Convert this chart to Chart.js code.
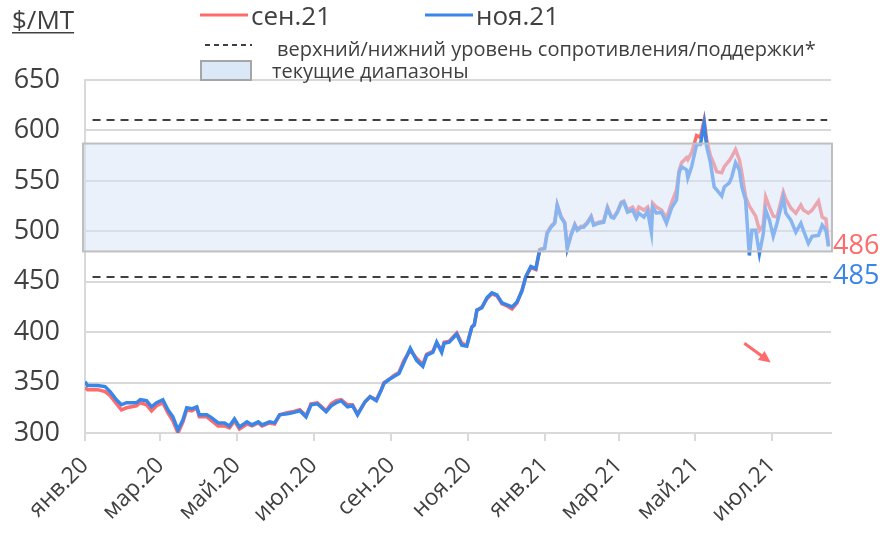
<!DOCTYPE HTML>
<html>
<head>
    <meta charset="utf-8">
    <script src="https://cdn.jsdelivr.net/npm/chart.js"></script>
    <style>
        body { margin: 0; background: #fff; }
    </style>
</head>
<body>
<canvas id="myChart" width="884" height="534"></canvas>

<script type="text/javascript">
    // days since 1 Jan 2020
    const days = [0,2,10,16,20,25,29,33,41,44,49,53,57,62,66,70,74,78,81,85,89,91,97,101,106,111,115,119,123,129,133,138,141,147,151,
        155,161,165,171,176,180,185,192,196,200,204,209,213,217,223,227,232,236,238,242,246,250,254,259,264,269,272,277,280,284,286,290,296,300,304,
        308,310,312,316,320,324,328,332,336,340,344,348,351,355,359,362,366,368,371,374,376,379,382,384,387,390,392,395,397,400,403,405,409,413,416,
        419,421,424,427,429,432,436,439,441,445,448,451,452,455,459,463,467,471,473,475,479,480,483,487,490,493,495,498,501,503,507,509,513,515,518,
        521,523,526,529,531,534,537,540,542,545,548,551,556,558,562,566,570,572,576,579,584,587,590,592];

    const sep21 = [345,343,343,341,337,329,323,325,327,330,328,322,327,330,320,312,300,311,323,322,325,316,316,312,307,307,305,312,304,309,307,310,307,310,309,
        318,320,321,323,317,329,330,322,329,332,333,328,328,319,331,336,333,343,350,353,357,360,372,382,374,368,378,381,389,382,390,391,399,389,387,
        405,408,421,425,433,438,436,428,426,423,429,442,455,464,462,482,484,499,505,509,526,515,509,484,497,507,502,505,505,509,515,507,509,510,524,
        515,514,520,529,530,521,524,518,524,521,524,512,528,524,521,513,528,541,560,568,573,571,578,595,593,610,590,575,566,559,558,564,570,574,581,
        571,558,534,525,521,515,501,506,534,524,515,514,539,532,523,518,526,521,518,521,530,514,512,486];

    const nov21 = [351,347,347,346,341,333,328,330,330,333,332,326,330,333,323,316,303,313,325,324,326,318,318,315,310,310,307,314,306,311,308,311,308,311,310,
        318,319,320,322,316,328,329,321,327,330,332,326,327,318,331,336,332,343,349,353,356,359,370,384,372,366,377,380,390,380,389,390,398,387,386,
        405,407,422,424,434,439,437,429,427,425,430,441,455,465,463,481,483,498,504,508,526,514,508,483,496,506,501,504,504,508,514,506,508,509,523,
        514,513,519,528,529,519,521,513,518,514,520,499,524,518,519,508,523,531,558,564,561,553,564,586,586,607,584,568,544,541,535,544,548,554,568,
        561,544,531,476,501,501,478,497,521,511,495,508,533,518,511,499,508,501,488,495,496,506,501,485];

    const tickDays = [0,60,121,182,244,305,366,425,486,547];
    const tickLabels = ['янв.20','мар.20','май.20','июл.20','сен.20','ноя.20','янв.21','мар.21','май.21','июл.21'];
    const seriesNames = ['сен.21','ноя.21'];
    const levelLines = [610, 455];
    const rangeBand = [480, 587];
    const arrowFrom = [525, 389];
    const arrowTo = [546, 370];

    const FONT = "'Open Sans', sans-serif";
    const RED = '#ff6b6b';
    const BLUE = '#3a86e8';
    const TXT = '#404040';

    const overlay = {
        id: 'overlay',
        afterDatasetsDraw(chart) {
            const ctx = chart.ctx;
            const area = chart.chartArea;
            const x = chart.scales.x, y = chart.scales.y;
            ctx.save();

            // current range box, drawn over the lines
            const top = y.getPixelForValue(rangeBand[1]);
            const bot = y.getPixelForValue(rangeBand[0]);
            ctx.fillStyle = 'rgba(214,228,248,0.5)';
            ctx.fillRect(area.left - 2, top, area.right - area.left + 3, bot - top);
            ctx.strokeStyle = '#bfbfbf';
            ctx.lineWidth = 2;
            ctx.strokeRect(area.left - 2, top, area.right - area.left + 3, bot - top);

            // resistance / support
            ctx.setLineDash([8, 6]);
            ctx.strokeStyle = '#404040';
            levelLines.forEach(v => {
                const py = Math.round(y.getPixelForValue(v));
                ctx.beginPath();
                ctx.moveTo(x.getPixelForValue(6), py);
                ctx.lineTo(x.getPixelForValue(591), py);
                ctx.stroke();
            });
            ctx.setLineDash([]);

            // last values
            ctx.font = '27px ' + FONT;
            ctx.textBaseline = 'middle';
            ctx.textAlign = 'left';
            const ly = y.getPixelForValue(sep21[sep21.length - 1]) + 1;
            ctx.fillStyle = RED;
            ctx.fillText(sep21[sep21.length - 1], area.right + 2, ly);
            ctx.fillStyle = BLUE;
            ctx.fillText(nov21[nov21.length - 1], area.right + 2, ly + 30);

            // arrow
            const x1 = x.getPixelForValue(arrowFrom[0]), y1 = y.getPixelForValue(arrowFrom[1]);
            const x2 = x.getPixelForValue(arrowTo[0]), y2 = y.getPixelForValue(arrowTo[1]);
            const ang = Math.atan2(y2 - y1, x2 - x1);
            ctx.strokeStyle = RED;
            ctx.fillStyle = RED;
            ctx.lineWidth = 3;
            ctx.beginPath();
            ctx.moveTo(x1, y1);
            ctx.lineTo(x2 - 8 * Math.cos(ang), y2 - 8 * Math.sin(ang));
            ctx.stroke();
            ctx.beginPath();
            ctx.moveTo(x2, y2);
            ctx.lineTo(x2 - 13 * Math.cos(ang - 0.45), y2 - 13 * Math.sin(ang - 0.45));
            ctx.lineTo(x2 - 13 * Math.cos(ang + 0.45), y2 - 13 * Math.sin(ang + 0.45));
            ctx.closePath();
            ctx.fill();
            ctx.restore();
        },
        afterDraw(chart) {
            const ctx = chart.ctx;
            ctx.save();
            ctx.fillStyle = TXT;
            ctx.textBaseline = 'alphabetic';
            ctx.textAlign = 'left';

            // unit
            ctx.font = '26px ' + FONT;
            ctx.fillText('$/MT', 12, 29);
            const w = ctx.measureText('$/MT').width;
            ctx.fillRect(12, 32, w, 1.5);

            // series legend
            ctx.lineWidth = 3;
            [[RED, 200], [BLUE, 425]].forEach((s, i) => {
                ctx.strokeStyle = s[0];
                ctx.beginPath();
                ctx.moveTo(s[1], 15);
                ctx.lineTo(s[1] + 48, 15);
                ctx.stroke();
                ctx.fillStyle = TXT;
                ctx.font = '26px ' + FONT;
                ctx.fillText(seriesNames[i], s[1] + 51, 25);
            });

            // dashed legend
            ctx.setLineDash([5, 4]);
            ctx.strokeStyle = '#404040';
            ctx.lineWidth = 2;
            ctx.beginPath();
            ctx.moveTo(205, 45);
            ctx.lineTo(252, 45);
            ctx.stroke();
            ctx.setLineDash([]);
            ctx.font = '20px ' + FONT;
            ctx.fillText('верхний/нижний уровень сопротивления/поддержки*', 277, 56);

            // box legend
            ctx.fillStyle = '#dbe8f8';
            ctx.fillRect(201, 61, 50, 19);
            ctx.strokeStyle = '#a6a6a6';
            ctx.strokeRect(201, 61, 50, 19);
            ctx.fillStyle = TXT;
            ctx.fillText('текущие диапазоны', 272, 78);
            ctx.restore();
        }
    };

    const data = {
        datasets: [{
            label: seriesNames[0],
            data: days.map((d, i) => ({x: d, y: sep21[i]})),
            borderColor: RED,
            borderWidth: 3.5,
            pointRadius: 0,
            tension: 0,
            order: 2
        }, {
            label: seriesNames[1],
            data: days.map((d, i) => ({x: d, y: nov21[i]})),
            borderColor: BLUE,
            borderWidth: 3.5,
            pointRadius: 0,
            tension: 0,
            order: 1
        }]
    };

    const config = {
        type: 'line',
        data: data,
        plugins: [overlay],
        options: {
            responsive: false,
            animation: false,
            layout: { padding: { top: 80, right: 53, left: 0, bottom: 0 } },
            plugins: { legend: { display: false }, tooltip: { enabled: false } },
            scales: {
                x: {
                    type: 'linear',
                    min: 0,
                    max: 594,
                    afterBuildTicks: (scale) => { scale.ticks = tickDays.map(v => ({value: v})); },
                    afterFit: (scale) => { scale.height = 101; },
                    ticks: {
                        autoSkip: false,
                        maxRotation: 45,
                        minRotation: 45,
                        color: TXT,
                        padding: 11,
                        font: { family: FONT, size: 23 },
                        callback: (v) => tickLabels[tickDays.indexOf(v)]
                    },
                    grid: { drawOnChartArea: false, drawTicks: true, tickLength: 8, color: '#d9d9d9', lineWidth: 2 },
                    border: { color: '#d9d9d9', width: 2 }
                },
                y: {
                    min: 300,
                    max: 650,
                    afterFit: (scale) => { scale.width = 85; },
                    ticks: {
                        stepSize: 50,
                        padding: 25,
                        color: TXT,
                        font: { family: FONT, size: 27 }
                    },
                    grid: { drawTicks: false, color: '#d9d9d9', lineWidth: 2 },
                    border: { color: '#d9d9d9', width: 2 }
                }
            }
        }
    };

    const myChart = new Chart(document.getElementById('myChart'), config);
</script>
</body>
</html>
